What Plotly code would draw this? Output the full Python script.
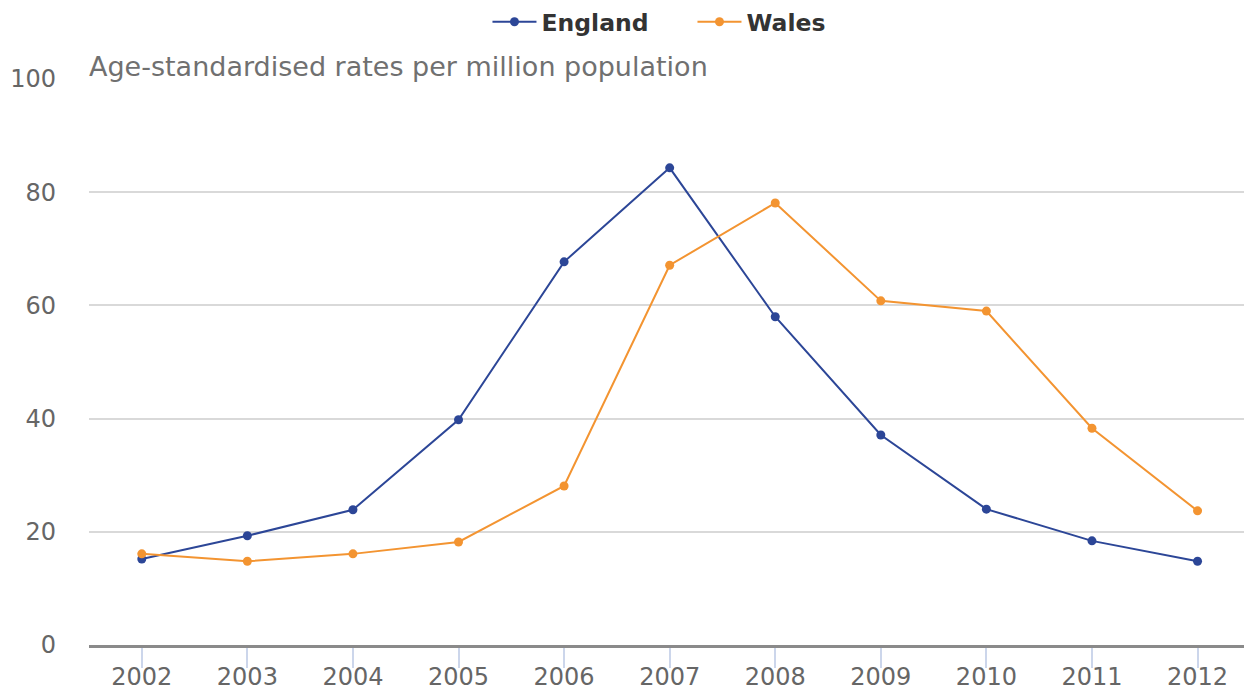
import plotly.graph_objects as go

years = ["2002", "2003", "2004", "2005", "2006", "2007", "2008", "2009", "2010", "2011", "2012"]
england = [15.2, 19.3, 23.9, 39.8, 67.7, 84.3, 58.0, 37.1, 24.0, 18.4, 14.8]
wales = [16.1, 14.8, 16.1, 18.2, 28.1, 67.1, 78.1, 60.8, 59.0, 38.3, 23.7]
y_ticks = [0, 20, 40, 60, 80, 100]

FONT = "DejaVu Sans"
fig = go.Figure()
fig.add_trace(go.Scatter(x=list(range(len(years))), y=england, name="England", mode="lines+markers",
                         line=dict(color="#2c4697", width=2), marker=dict(size=9, color="#2c4697")))
fig.add_trace(go.Scatter(x=list(range(len(years))), y=wales, name="Wales", mode="lines+markers",
                         line=dict(color="#f39431", width=2), marker=dict(size=9, color="#f39431")))

fig.update_layout(
    width=1244, height=690,
    margin=dict(l=89, r=0, t=79, b=45),
    paper_bgcolor="white", plot_bgcolor="white",
    font=dict(family=FONT, color="#666666", size=24),
    showlegend=True,
    legend=dict(orientation="h", x=0.345, xanchor="left", y=1, yanchor="top", yref="container",
                font=dict(family=FONT, size=23.5, color="#333333", weight="bold"),
                itemwidth=44, tracegroupgap=0, entrywidth=146, entrywidthmode="pixels"),
    xaxis=dict(
        tickmode="array", tickvals=list(range(len(years))), ticktext=years,
        range=[-0.5, 10.44], showgrid=False, zeroline=False, automargin=False,
        showline=True, linecolor="#8a8a8a", linewidth=3,
        ticks="outside", ticklen=20, tickcolor="#ccd6eb", tickwidth=2,
        ticklabelstandoff=-12,
        tickfont=dict(size=24, color="#666666"),
    ),
    yaxis=dict(
        range=[0, 100], tickvals=y_ticks, showgrid=True, gridcolor="#d9d9d9", gridwidth=2,
        zeroline=False, showline=False, ticks="", ticklabelstandoff=32, automargin=False,
        tickfont=dict(size=24, color="#666666"),
    ),
    annotations=[dict(text="Age-standardised rates per million population", xref="paper", yref="paper",
                      x=0, y=1, xanchor="left", yanchor="bottom", yshift=-5, xshift=-2, showarrow=False,
                      font=dict(family=FONT, size=27, color="#707070"))],
)
fig.write_html("out.html")
